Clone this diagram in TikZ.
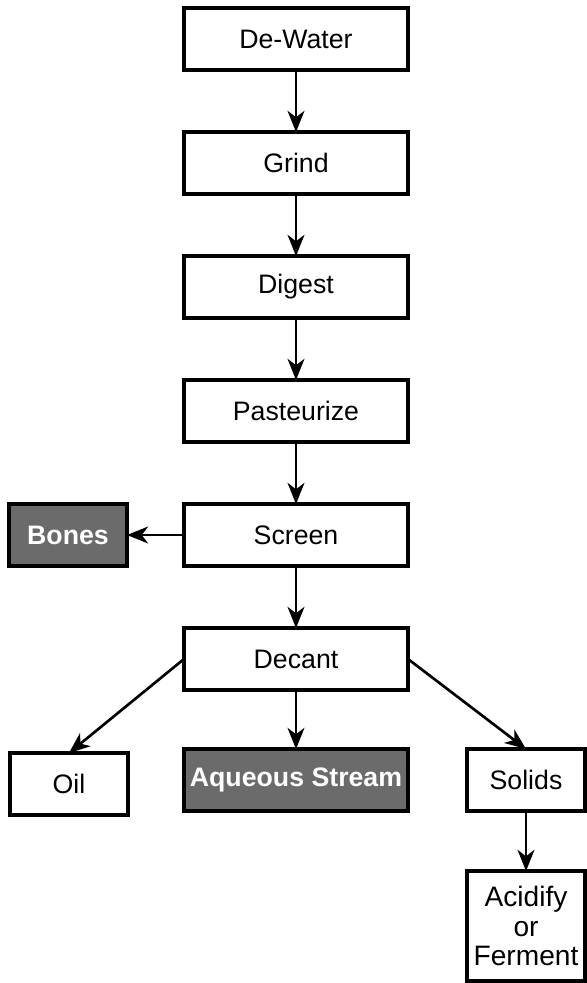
\documentclass[tikz,border=0pt]{standalone}
\usepackage{fontspec}
\setmainfont{Liberation Sans}
\usetikzlibrary{arrows.meta, positioning}

\begin{document}
\begin{tikzpicture}[
  node distance=1.55cm and 1.4cm,
  box/.style={rectangle, draw=black, fill=white, line width=2.4pt, outer sep=0pt, minimum width=5.6cm, minimum height=1.55cm, text centered, font=\fontsize{19}{22}\selectfont},
  smallbox/.style={box, minimum width=2.95cm},
  shaded/.style={fill=black!58, text=white, font=\fontsize{19}{22}\selectfont\bfseries},
  arrow/.style={line width=1.9pt, -{Stealth[length=15pt, width=12pt, inset=4.5pt]}}
]
\useasboundingbox (0,0) rectangle (14.65,-24.575);

% Main Flow
\node (dewater) [box] at (7.4,-0.975) {De-Water};
\node (grind) [box, below=of dewater] {Grind};
\node (digest) [box, below=of grind] {Digest};
\node (pasteurize) [box, below=of digest] {Pasteurize};
\node (screen) [box, below=of pasteurize] {Screen};
\node (decant) [box, below=of screen] {Decant};
\node (aqueous) [box, shaded, below=1.475cm of decant] {Aqueous Stream};

% Side Streams
\node (bones) [smallbox, shaded, left=1.425cm of screen] {Bones};
\node (oil) [smallbox, left=1.4cm of aqueous, yshift=-0.1cm] {Oil};
\node (solids) [smallbox, right=1.475cm of aqueous] {Solids};
\node (acidify) [smallbox, below=1.5cm of solids, minimum height=2.75cm, inner sep=2pt, align=center, font=\fontsize{20}{21}\selectfont] {Acidify\\or\\Ferment};

% Arrows
\draw [arrow] (dewater) -- (grind);
\draw [arrow] (grind) -- (digest);
\draw [arrow] (digest) -- (pasteurize);
\draw [arrow] (pasteurize) -- (screen);
\draw [arrow] (screen) -- (bones);
\draw [arrow] (screen) -- (decant);
\draw [arrow] (decant.west) -- (oil.north);
\draw [arrow] (decant) -- (aqueous);
\draw [arrow] (decant.east) -- (solids.north);
\draw [arrow] (solids) -- (acidify);

\end{tikzpicture}
\end{document}
